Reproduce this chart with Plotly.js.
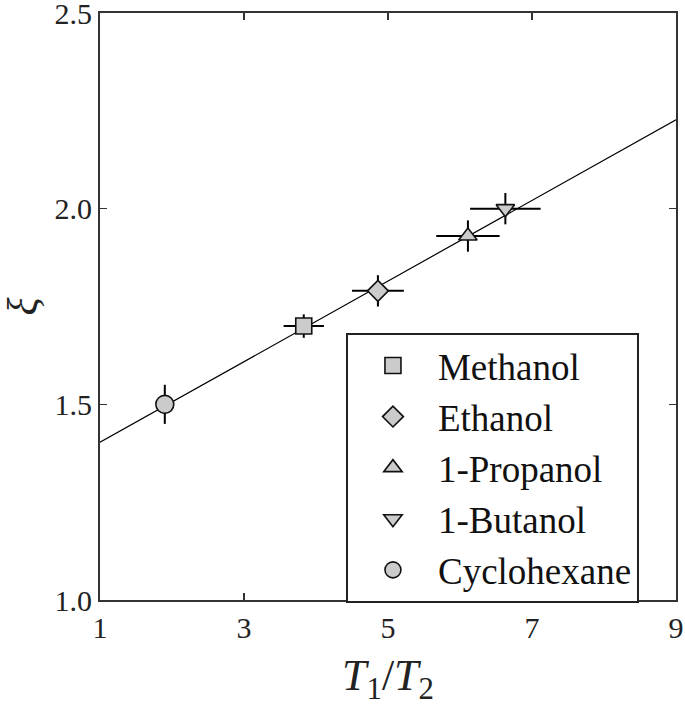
<!DOCTYPE html>
<html>
<head>
<meta charset="utf-8">
<script src="https://cdn.plot.ly/plotly-3.0.1.min.js"></script>
<style>body{margin:0;background:#fff}#chart{width:685px;height:708px}</style>
</head>
<body>
<div id="chart"></div>
<script>
// solvents, T1/T2 ratio and xi with their errors
var names = ["Methanol", "Ethanol", "1-Propanol", "1-Butanol", "Cyclohexane"];
var symbols = ["square", "diamond", "triangle-up", "triangle-down", "circle"];
var ratio = [3.83, 4.86, 6.11, 6.63, 1.90];
var ratioErr = [0.28, 0.36, 0.44, 0.49, 0];
var xi = [1.70, 1.79, 1.93, 2.00, 1.50];
var xiErr = [0.03, 0.04, 0.04, 0.04, 0.05];

// fitted line
var fitX = [1, 9];
var fitY = [1.403, 2.227];

var data = [];
data.push({
  x: fitX, y: fitY, mode: 'lines', showlegend: false, hoverinfo: 'skip',
  line: {color: '#000', width: 1.2}
});
for (var i = 0; i < names.length; i++) {
  data.push({
    x: [ratio[i]], y: [xi[i]], name: names[i], mode: 'markers',
    marker: {symbol: symbols[i], size: symbols[i] == 'circle' ? 18 : 16,
             color: '#cbcbcb', line: {color: '#111', width: 1.6}},
    error_x: {type: 'data', array: [ratioErr[i]], visible: ratioErr[i] > 0,
              color: '#000', thickness: 2, width: 0},
    error_y: {type: 'data', array: [xiErr[i]], visible: true,
              color: '#000', thickness: 2, width: 0}
  });
}

var serif = "'Liberation Serif', 'Times New Roman', serif";
var axisFont = {family: serif, size: 30, color: '#222'};

var layout = {
  width: 685, height: 708,
  margin: {l: 100, r: 9, t: 13, b: 108},
  paper_bgcolor: '#fff', plot_bgcolor: '#fff',
  font: axisFont,
  xaxis: {
    range: [1, 9], tickvals: [1, 3, 5, 7, 9],
    ticks: 'inside', ticklen: 7, tickwidth: 1.5, tickcolor: '#333',
    showline: true, linecolor: '#333', linewidth: 2, mirror: 'ticks',
    showgrid: false, zeroline: false, tickfont: axisFont,
    ticklabeloverflow: 'allow',
    title: {text: '<i>T</i><sub>1</sub>/<i>T</i><sub>2</sub>', font: {family: serif, size: 44, color: '#222'}, standoff: 16}
  },
  yaxis: {
    range: [1, 2.5], tickvals: [1, 1.5, 2, 2.5], tickformat: '.1f',
    ticks: 'inside', ticklen: 7, tickwidth: 1.5, tickcolor: '#333',
    showline: true, linecolor: '#333', linewidth: 2, mirror: 'ticks',
    showgrid: false, zeroline: false, tickfont: axisFont,
    ticklabeloverflow: 'allow',
    title: {text: '<i>ξ</i>', font: {family: serif, size: 42, color: '#222'}, standoff: 26}
  },
  legend: {
    x: 0.427, y: 0.455, xanchor: 'left', yanchor: 'top',
    bordercolor: '#222', borderwidth: 2, bgcolor: '#fff',
    itemwidth: 80,
    font: {family: serif, size: 37, color: '#111'}
  },
  showlegend: true
};

Plotly.newPlot('chart', data, layout, {displayModeBar: false, staticPlot: true});
</script>
</body>
</html>
